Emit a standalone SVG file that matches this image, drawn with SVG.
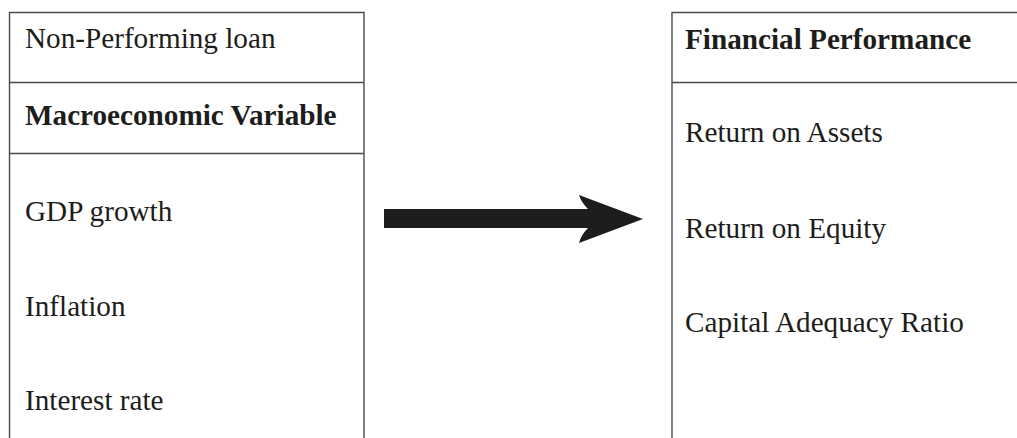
<svg xmlns="http://www.w3.org/2000/svg" width="1017" height="438" viewBox="0 0 1017 438">
<style>
.ln{stroke:#4a4a4a;stroke-width:1.4;fill:none}
.t{font-family:"Liberation Serif","Times New Roman",serif;font-size:29.2px;fill:#1d1d1b}
.b{font-weight:bold}
</style>
<rect width="1017" height="438" fill="#fff"/>
<g id="left-box">
<path class="ln" d="M9.5 438V12.5H364V438M9.5 82.5H364M9.5 153.5H364"/>
<text class="t" x="25" y="48">Non-Performing loan</text>
<text class="t b" x="25" y="125">Macroeconomic Variable</text>
<text class="t" x="25" y="221">GDP growth</text>
<text class="t" x="25" y="316">Inflation</text>
<text class="t" x="25" y="410">Interest rate</text>
</g>
<g id="right-box">
<path class="ln" d="M1017 12.5H672V438M672 82.5H1017"/>
<text class="t b" x="685" y="49">Financial Performance</text>
<text class="t" x="685" y="142">Return on Assets</text>
<text class="t" x="685" y="238">Return on Equity</text>
<text class="t" x="685" y="332">Capital Adequacy Ratio</text>
</g>
<g id="connectors">
<path d="M384 209H588Q581 202 579 195L643 219L579 243Q581 235 588 228H384Z" fill="#1d1d1b"/>
</g>
</svg>
